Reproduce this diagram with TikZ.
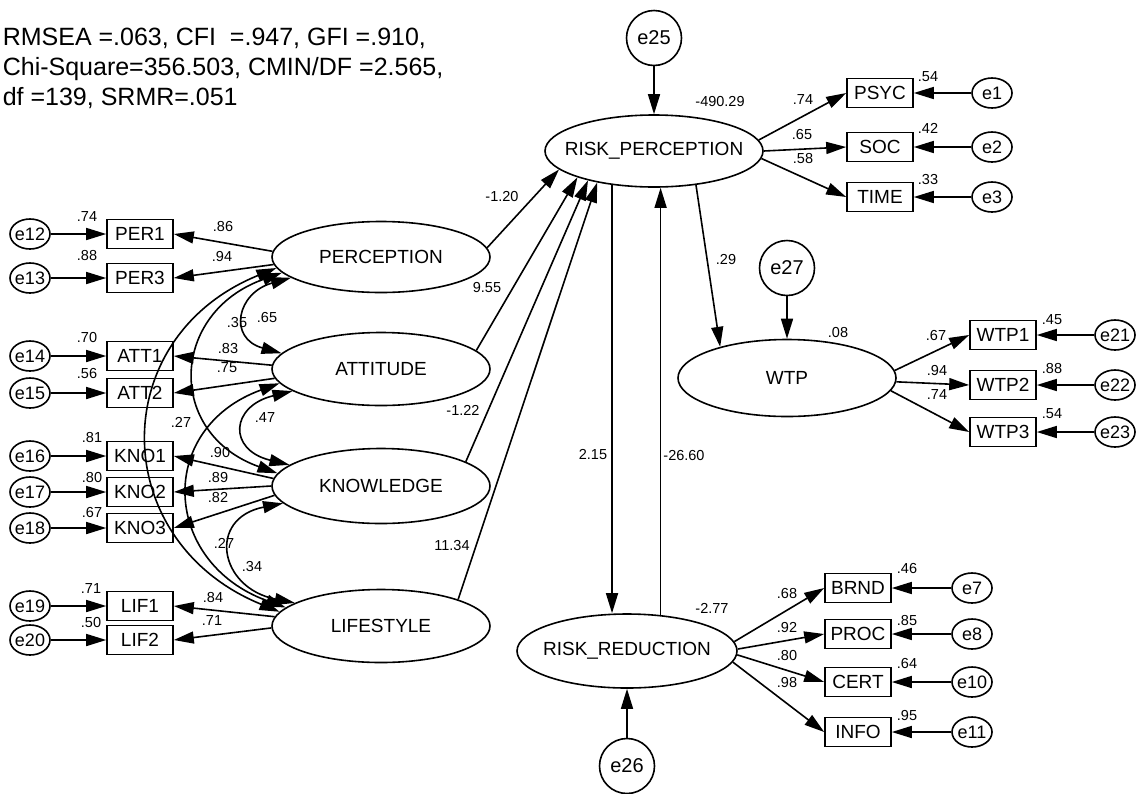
\documentclass[tikz,border=0pt]{standalone}
\usepackage{fontspec}
\setmainfont{Liberation Sans}
\usetikzlibrary{arrows.meta,shapes.geometric}
\newcommand\zb[1]{\makebox[0pt]{#1}}
\begin{document}
\begin{tikzpicture}[x=1pt,y=-1pt,
  line width=1.6pt,
  >={Triangle[length=20pt,width=12pt]},
  lat/.style={ellipse,draw,minimum width=218pt,minimum height=73pt,inner sep=0pt,
    font=\fontsize{19}{19}\selectfont},
  obs/.style={rectangle,draw,minimum width=66pt,minimum height=29pt,inner sep=0pt,
    font=\fontsize{19}{19}\selectfont},
  err/.style={ellipse,draw,minimum width=40pt,minimum height=30pt,inner sep=0pt,
    font=\fontsize{18}{18}\selectfont},
  dist/.style={circle,draw,minimum size=55pt,inner sep=0pt,
    font=\fontsize{20}{20}\selectfont},
  est/.style={inner sep=0pt,font=\fontsize{14.5}{14.5}\selectfont},
  fit/.style={inner sep=0pt,anchor=base west,font=\fontsize{25}{25}\selectfont},
  path/.style={->},
  cov/.style={<->}
]
\useasboundingbox (0,0) rectangle (1139,793);

% model fit summary
\node[fit] (fit1) at (2,45) {RMSEA =.063, CFI\ \ =.947, GFI =.910,};
\node[fit] (fit2) at (2,75) {Chi-Square=356.503, CMIN/DF =2.565,};
\node[fit] (fit3) at (2,105) {df =139, SRMR=.051};

% latent variables
\node[lat,minimum height=71pt] (PER) at (381,257) {\zb{PERCEPTION}};
\node[lat] (ATT) at (381,369) {\zb{ATTITUDE}};
\node[lat,minimum height=75pt] (KNO) at (381,486) {\zb{KNOWLEDGE}};
\node[lat] (LIF) at (381,626) {\zb{LIFESTYLE}};
\node[lat,minimum height=72pt] (RP) at (654,151) {\zb{RISK\_PERCEPTION}};
\node[lat,minimum height=77pt] (WTP) at (787,378) {\zb{WTP}};
\node[lat,minimum width=220pt,minimum height=74pt] (RR) at (627,651) {\zb{RISK\_REDUCTION}};

% disturbances
\node[dist] (e25) at (654,38) {e25};
\node[dist] (e27) at (787,268) {e27};
\node[dist] (e26) at (627,766) {e26};

% indicators of the exogenous constructs
\foreach \b/\e/\y in {PER1/e12/234, PER3/e13/278, ATT1/e14/356, ATT2/e15/393,
                      KNO1/e16/456, KNO2/e17/492, KNO3/e18/528, LIF1/e19/606, LIF2/e20/640}{
  \node[obs] (\b) at (140,\y) {\b};
  \node[err] (\e) at (30,\y) {\zb{\e}};
  \draw[path] (\e.east) -- (\b.west);
}

% indicators of RISK_PERCEPTION
\foreach \b/\e/\y in {PSYC/e1/93, SOC/e2/147, TIME/e3/197}{
  \node[obs] (\b) at (880,\y) {\b};
  \node[err] (\e) at (992,\y) {\zb{\e}};
  \draw[path] (\e.west) -- (\b.east);
}

% indicators of WTP
\foreach \b/\e/\y in {WTP1/e21/335, WTP2/e22/385, WTP3/e23/432}{
  \node[obs] (\b) at (1003,\y) {\b};
  \node[err] (\e) at (1115,\y) {\zb{\e}};
  \draw[path] (\e.west) -- (\b.east);
}

% indicators of RISK_REDUCTION
\foreach \b/\e/\y in {BRND/e7/588, PROC/e8/634, CERT/e10/682, INFO/e11/732}{
  \node[obs] (\b) at (858,\y) {\b};
  \node[err] (\e) at (972,\y) {\zb{\e}};
  \draw[path] (\e.west) -- (\b.east);
}

% loadings, left block
\draw[path] (PER.177) -- (PER1.east);
\draw[path] (PER.184) -- (PER3.east);
\draw[path] (ATT.178) -- (ATT1.east);
\draw[path] (ATT.185) -- (ATT2.east);
\draw[path] (KNO.176) -- (KNO1.east);
\draw[path] (KNO.180) -- (KNO2.east);
\draw[path] (KNO.185) -- (KNO3.east);
\draw[path] (LIF.175) -- (LIF1.east);
\draw[path] (LIF.181) -- (LIF2.east);

% loadings, right blocks
\draw[path] (RP.6) -- (PSYC.west);
\draw[path] (RP.0) -- (SOC.west);
\draw[path] (RP.-4) -- (TIME.west);
\draw[path] (WTP.4) -- (WTP1.west);
\draw[path] (WTP.-2) -- (WTP2.west);
\draw[path] (WTP.-7) -- (WTP3.west);
\draw[path] (RR.5) -- (BRND.west);
\draw[path] (RR.1.6) -- (PROC.west);
\draw[path] (RR.-2) -- (CERT.west);
\draw[path] (RR.-6) -- (INFO.west);

% disturbance paths
\draw[path] (e25.south) -- (RP.north);
\draw[path] (e27.south) -- (WTP.north);
\draw[path] (e26.north) -- (RR.south);

% structural paths
\draw[path] (PER.5) -- (RP.191);
\draw[path] (ATT.11) -- (RP.199);
\draw[path] (KNO.16) -- (RP.204);
\draw[path] (LIF.19) -- (RP.209);
\draw[path] (RP.-39) -- (WTP.155);
\draw[path] (RP.219) -- (RP.219 |- RR.north);
\draw[path] (RR.47) -- (RR.47 |- RP.south);

% covariances among exogenous constructs
\draw[cov] (PER.193) .. controls +(-54,15) and +(-54,-15) .. (ATT.171);
\draw[cov] (PER.189) .. controls +(-112,40) and +(-112,-40) .. (KNO.173);
\draw[cov] (PER.186) .. controls +(-172,70) and +(-172,-70) .. (LIF.172);
\draw[cov] (ATT.194) .. controls +(-62,15) and +(-62,-15) .. (KNO.167);
\draw[cov] (ATT.188) .. controls +(-124,45) and +(-124,-45) .. (LIF.169);
\draw[cov] (KNO.190) .. controls +(-76,15) and +(-76,-15) .. (LIF.165);

% estimates
\node[est] (c65) at (267,317) {.65};
\node[est] (c35) at (237,322) {.35};
\node[est] (c27a) at (181,422) {.27};
\node[est] (c47) at (265,418) {.47};
\node[est] (c27b) at (224,543) {.27};
\node[est] (c34) at (252,566) {.34};

\node[est] (l86) at (223,227) {.86};
\node[est] (l94) at (222,257) {.94};
\node[est] (l83) at (228,348) {.83};
\node[est] (l75) at (227,368) {.75};
\node[est] (l90) at (220,452) {.90};
\node[est] (l89) at (218,477) {.89};
\node[est] (l82) at (218,497) {.82};
\node[est] (l84) at (213,597) {.84};
\node[est] (l71) at (212,620) {.71};

\node[est] (r74) at (87,217) {.74};
\node[est] (r88) at (87,256) {.88};
\node[est] (r70) at (87,337) {.70};
\node[est] (r56) at (87,373) {.56};
\node[est] (r81) at (92,437) {.81};
\node[est] (r80) at (92,477) {.80};
\node[est] (r67) at (92,512) {.67};
\node[est] (r71) at (91,588) {.71};
\node[est] (r50) at (91,622) {.50};

\node[est] (s120) at (502,197) {-1.20};
\node[est] (s955) at (487,288) {9.55};
\node[est] (s122) at (463,410) {-1.22};
\node[est] (s1134) at (452,545) {11.34};
\node[est] (s29) at (726,260) {.29};
\node[est] (s215) at (593,454) {2.15};
\node[est] (s2660) at (684,455) {-26.60};

\node[est] (v49029) at (720,102) {-490.29};
\node[est] (v08) at (838,332) {.08};
\node[est] (v277) at (712,608) {-2.77};

\node[est] (p74) at (803,100) {.74};
\node[est] (p65) at (802,135) {.65};
\node[est] (p58) at (803,159) {.58};
\node[est] (q54) at (928,77) {.54};
\node[est] (q42) at (928,128) {.42};
\node[est] (q33) at (928,180) {.33};

\node[est] (w67) at (936,335) {.67};
\node[est] (w94) at (937,370) {.94};
\node[est] (w74) at (937,395) {.74};
\node[est] (x45) at (1052,320) {.45};
\node[est] (x88) at (1052,368) {.88};
\node[est] (x54) at (1052,414) {.54};

\node[est] (b68) at (787,593) {.68};
\node[est] (b92) at (787,627) {.92};
\node[est] (b80) at (787,655) {.80};
\node[est] (b98) at (787,682) {.98};
\node[est] (y46) at (907,568) {.46};
\node[est] (y85) at (907,620) {.85};
\node[est] (y64) at (907,663) {.64};
\node[est] (y95) at (907,715) {.95};
\end{tikzpicture}
\end{document}
